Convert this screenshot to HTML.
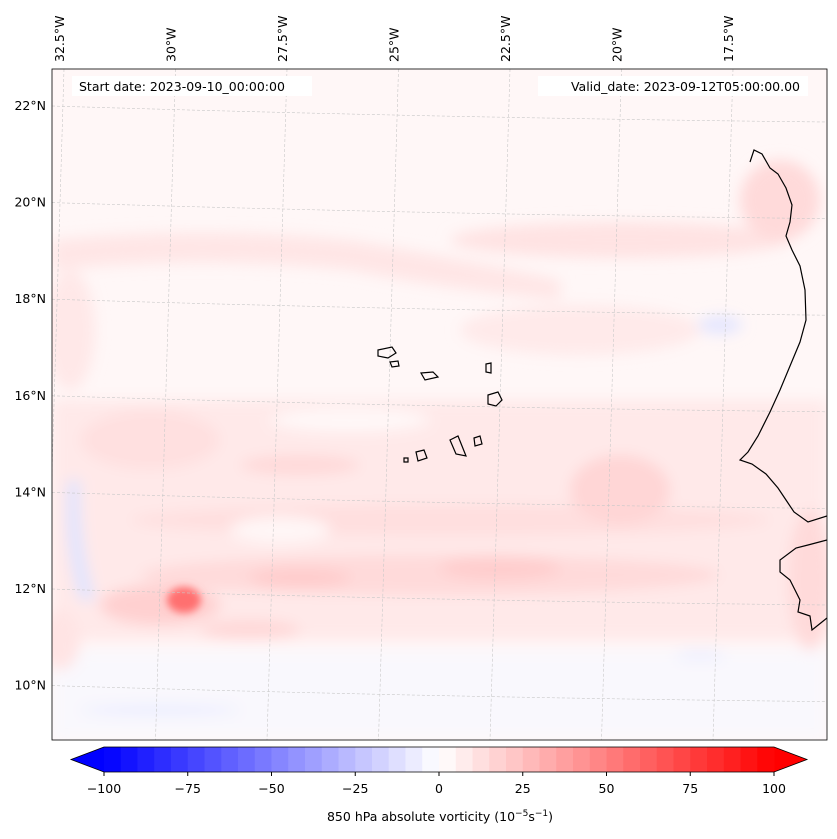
<!DOCTYPE html>
<html><head><meta charset="utf-8"><style>
body{margin:0;background:#fff;font-family:"Liberation Sans","DejaVu Sans",sans-serif}
svg{display:block}
text{font-family:"DejaVu Sans","Liberation Sans",sans-serif;font-size:12.5px;fill:#000}
</style></head><body>
<svg id="fig" width="837" height="839" viewBox="0 0 837 839">
<defs>
<filter id="blur" x="-50%" y="-50%" width="200%" height="200%"><feGaussianBlur stdDeviation="7"/></filter>
<filter id="blur2" x="-50%" y="-50%" width="200%" height="200%"><feGaussianBlur stdDeviation="4"/></filter>
<clipPath id="mapclip"><rect x="52" y="69" width="775" height="671"/></clipPath>
</defs>
<g id="map" clip-path="url(#mapclip)">
<rect x="52" y="69" width="775" height="671" fill="#fff7f7"/>
<g filter="url(#blur)">
<path d="M52,240 Q200,225 350,240 Q470,260 560,280 L560,300 Q450,290 350,270 Q200,255 52,270 Z" fill="#ffe6e6"/>
<ellipse cx="620" cy="240" rx="170" ry="18" fill="#ffe3e3"/>
<ellipse cx="780" cy="200" rx="40" ry="40" fill="#ffdada"/>
<ellipse cx="70" cy="330" rx="25" ry="60" fill="#ffe8e8"/>
<ellipse cx="580" cy="330" rx="120" ry="25" fill="#ffeaea"/>
<rect x="52" y="400" width="775" height="240" fill="#ffe9e9"/>
<ellipse cx="150" cy="440" rx="70" ry="30" fill="#ffe0e0"/>
<ellipse cx="300" cy="465" rx="60" ry="10" fill="#ffd9d9"/>
<ellipse cx="450" cy="520" rx="320" ry="16" fill="#ffdfdf"/>
<ellipse cx="620" cy="490" rx="50" ry="35" fill="#ffd6d6"/>
<ellipse cx="430" cy="575" rx="290" ry="20" fill="#ffdada"/>
<ellipse cx="300" cy="578" rx="50" ry="10" fill="#ffcccc"/>
<ellipse cx="500" cy="568" rx="60" ry="12" fill="#ffcdcd"/>
<ellipse cx="160" cy="605" rx="60" ry="20" fill="#ffd0d0"/>
<ellipse cx="250" cy="630" rx="50" ry="10" fill="#ffd8d8"/>
<ellipse cx="350" cy="420" rx="80" ry="12" fill="#fff8f8"/>
<ellipse cx="280" cy="530" rx="50" ry="14" fill="#fff6f6"/>
<rect x="52" y="650" width="775" height="90" fill="#f9f8fd"/>
<ellipse cx="160" cy="710" rx="80" ry="5" fill="#eaecff"/>
<path d="M68,480 Q62,540 80,600 L95,600 Q78,540 80,480 Z" fill="#e0e4ff"/>
<ellipse cx="720" cy="325" rx="22" ry="9" fill="#e4e6ff"/>
<ellipse cx="700" cy="655" rx="25" ry="5" fill="#eceeff"/>
<ellipse cx="810" cy="580" rx="22" ry="70" fill="#ffdada"/>
<ellipse cx="60" cy="640" rx="20" ry="30" fill="#ffe4e4"/>
</g>
<ellipse cx="184" cy="600" rx="17" ry="13" fill="#ff7070" filter="url(#blur2)"/>
<g id="grid" stroke="#c8c8c8" stroke-width="0.6" stroke-dasharray="3,2" fill="none"></g>
<g fill="none" stroke="#000" stroke-width="1.2">
<path d="M750,162 L754,150 L762,154 L770,168 L778,174 L786,188 L792,205 L790,222 L786,236 L792,250 L800,266 L805,290 L806,320 L800,342 L790,366 L780,390 L770,412 L758,436 L748,452 L740,460 L752,464 L766,474 L778,488 L786,500 L794,512 L808,522 L827,516"/>
<path d="M827,540 L808,545 L796,548 L780,560 L780,572 L790,580 L800,600 L798,612 L810,616 L812,630 L822,622 L827,618"/>
<path d="M378,350 L392,347 L396,353 L388,358 L378,356 Z"/>
<path d="M390,362 L398,361 L399,366 L392,367 Z"/>
<path d="M421,373 L433,372 L438,377 L425,380 Z"/>
<path d="M486,364 L491,363 L491,373 L486,372 Z"/>
<path d="M488,395 L498,392 L502,400 L496,406 L488,404 Z"/>
<path d="M450,440 L458,436 L462,446 L466,456 L456,454 Z"/>
<path d="M474,438 L480,436 L482,444 L475,446 Z"/>
<path d="M416,452 L424,450 L427,458 L418,461 Z"/>
<path d="M404,458 L408,458 L408,462 L404,462 Z"/>
</g>
</g>
<rect x="52" y="69" width="775" height="671" fill="none" stroke="#000" stroke-width="0.8"/>
<rect x="72" y="76" width="240" height="20" fill="#fff"/>
<text x="79" y="91">Start date: 2023-09-10_00:00:00</text>
<rect x="538" y="76" width="270" height="20" fill="#fff"/>
<text x="800" y="91" text-anchor="end">Valid_date: 2023-09-12T05:00:00.00</text>
<g id="latlabels"></g>
<g id="lonlabels"></g>
<g id="cbar"></g>
<text x="440" y="821" text-anchor="middle">850 hPa absolute vorticity (10<tspan dy="-5" font-size="9">−5</tspan><tspan dy="5">s</tspan><tspan dy="-5" font-size="9">−1</tspan><tspan dy="5">)</tspan></text>
</svg>
<script>
const latTicks=[22,20,18,16,14,12,10];
const lonTicks=[32.5,30,27.5,25,22.5,20,17.5];
const cbarTicks=[-100,-75,-50,-25,0,25,50,75,100];
const cbarLevels=40;
const NS="http://www.w3.org/2000/svg";
function latY(v){return 106+(22-v)*48.3;}
function lonX(v){return 60+(32.5-v)*44.6;}
function mk(t,a,p){const e=document.createElementNS(NS,t);for(const k in a)e.setAttribute(k,a[k]);p.appendChild(e);return e;}
const grid=document.getElementById('grid');
latTicks.forEach(v=>{const y=latY(v);
 const p=mk('path',{d:`M52,${y} Q440,${y+12} 827,${y+16}`},grid);
 
 
 const t=mk('text',{x:46,y:y+4,'text-anchor':'end'},document.getElementById('latlabels'));
 t.textContent=v+'°N';
 
 
});
lonTicks.forEach(v=>{const x=lonX(v);
 const p=mk('path',{d:`M${x+4},69 L${x-16},740`},grid);
 
 
 const t=mk('text',{x:0,y:0,transform:`translate(${x+4},62) rotate(-90)`},document.getElementById('lonlabels'));
 t.textContent=v+'°W';
 
 
});
const cb=document.getElementById('cbar');
const x0=104,x1=774,y0=747,y1=772;
function cx(v){return x0+(v+100)/200*(x1-x0);}
function col(v){const f=v/100;let r,g,b;
 if(f<0){r=g=Math.round(255*(1+f));b=255;}else{r=255;g=b=Math.round(255*(1-f));}
 return `rgb(${r},${g},${b})`;}
const tl=mk('path',{d:`M${x0},${y0} L71,${(y0+y1)/2} L${x0},${y1} Z`,fill:col(-100)},cb);


const tr=mk('path',{d:`M${x1},${y0} L807,${(y0+y1)/2} L${x1},${y1} Z`,fill:col(100)},cb);


const step=200/cbarLevels;
for(let i=0;i<cbarLevels;i++){const a=-100+i*step,m=a+step/2;
 const r=mk('rect',{x:cx(a),y:y0,width:cx(a+step)-cx(a)+0.5,height:y1-y0,fill:col(m)},cb);
 
 
}
const out=mk('path',{d:`M${x0},${y0} L71,${(y0+y1)/2} L${x0},${y1} L${x1},${y1} L807,${(y0+y1)/2} L${x1},${y0} Z`,fill:'none',stroke:'#000','stroke-width':0.8},cb);


cbarTicks.forEach(v=>{const x=cx(v);
 const l=mk('line',{x1:x,x2:x,y1:y1,y2:y1+4,stroke:'#000'},cb);
 
 
 const t=mk('text',{x:x,y:y1+21,'text-anchor':'middle'},cb);
 t.textContent=String(v).replace('-','−');
 
 
});
</script>
</body></html>
